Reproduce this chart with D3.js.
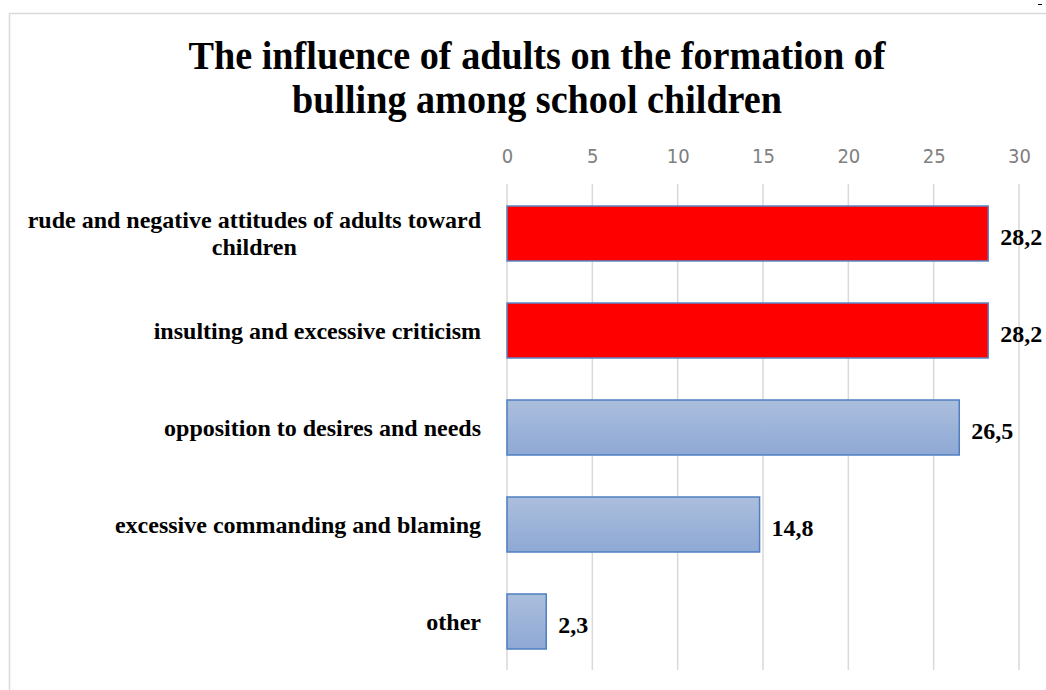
<!DOCTYPE html>
<html><head><meta charset="utf-8">
<script src="https://cdn.jsdelivr.net/npm/d3@7"></script>
<style>body{margin:0;background:#fff}svg{display:block}</style>
</head><body>
<svg id="c" width="1046" height="690"></svg>
<script>
const categories = [
  ["rude and negative attitudes of adults toward", "children"],
  ["insulting and excessive criticism"],
  ["opposition to desires and needs"],
  ["excessive commanding and blaming"],
  ["other"]
];
const values = [28.2, 28.2, 26.5, 14.8, 2.3];
const valueLabels = ["28,2", "28,2", "26,5", "14,8", "2,3"];
const highlighted = [true, true, false, false, false];
const tickValues = [0, 5, 10, 15, 20, 25, 30];
const titleLines = ["The influence of adults on the formation of", "bulling among school children"];

const svg = d3.select("#c");
const serif = "'Liberation Serif','Times New Roman',serif";

const defs = svg.append("defs");
const g = defs.append("linearGradient").attr("id","blueGrad").attr("x1",0).attr("y1",0).attr("x2",0).attr("y2",1);
g.append("stop").attr("offset","0%").attr("stop-color","#abbedd");
g.append("stop").attr("offset","100%").attr("stop-color","#8ea9d5");

// frame
svg.append("rect").attr("x",9.5).attr("y",13.5).attr("width",1100).attr("height",700)
  .attr("fill","none").attr("stroke","#d9d9d9").attr("stroke-width",1.5);
svg.append("line").attr("x1",1038).attr("x2",1042).attr("y1",4.5).attr("y2",4.5).attr("stroke","#000").attr("stroke-width",1);

// title
const titleWidths = [697, 490];
titleLines.forEach((t,i)=>{
  svg.append("text").attr("x",537).attr("y",69+i*44).attr("text-anchor","middle")
    .attr("font-family",serif).attr("font-weight","bold").attr("font-size",39)
    .attr("textLength",titleWidths[i]).attr("lengthAdjust","spacingAndGlyphs")
    .attr("fill","#000").text(t);
});

const x = d3.scaleLinear().domain([0,30]).range([507,1019]);
const y = d3.scaleBand().domain(d3.range(values.length)).range([185,670]).paddingInner(0.433).paddingOuter(0.2165);

// gridlines
svg.append("g").selectAll("line").data(tickValues).join("line")
  .attr("x1",d=>x(d)).attr("x2",d=>x(d)).attr("y1",184).attr("y2",670)
  .attr("stroke","#d9d9d9").attr("stroke-width",1.5);

// top axis labels
const ax = svg.append("g").attr("transform","translate(0,163)")
  .call(d3.axisTop(x).tickValues(tickValues).tickSize(0).tickPadding(0));
ax.select(".domain").remove();
ax.selectAll("text").attr("font-family","'DejaVu Sans Condensed','Liberation Sans',sans-serif")
  .attr("font-weight","300").attr("font-size",20).attr("fill","#808080");

// bars
svg.append("g").selectAll("rect").data(values).join("rect")
  .attr("x",x(0)).attr("y",(d,i)=>y(i)).attr("width",d=>x(d)-x(0)).attr("height",y.bandwidth())
  .attr("fill",(d,i)=>highlighted[i]?"#ff0000":"url(#blueGrad)")
  .attr("stroke",(d,i)=>highlighted[i]?"#5b87c6":"#4f7fc0").attr("stroke-width",1.5);

// value labels
svg.append("g").selectAll("text").data(values).join("text")
  .attr("x",d=>x(d)+12).attr("y",(d,i)=>y(i)+y.bandwidth()/2+11)
  .attr("font-family",serif).attr("font-weight","bold").attr("font-size",24).attr("fill","#000")
  .text((d,i)=>valueLabels[i]);

// category labels
const catG = svg.append("g");
categories.forEach((lines,i)=>{
  const cy = y(i)+y.bandwidth()/2;
  const t = catG.append("text").attr("font-family",serif).attr("font-weight","bold").attr("font-size",24).attr("fill","#000");
  const n = lines.length, lh = 27;
  const spans = lines.map((l,j)=>t.append("tspan").attr("y",cy+8+(j-(n-1)/2)*lh).text(l));
  const widths = spans.map(s=>s.node().getComputedTextLength());
  const maxW = d3.max(widths);
  const right = 481;
  spans.forEach((s,j)=>s.attr("x",right-maxW/2).attr("text-anchor","middle"));
});
</script>
</body></html>
